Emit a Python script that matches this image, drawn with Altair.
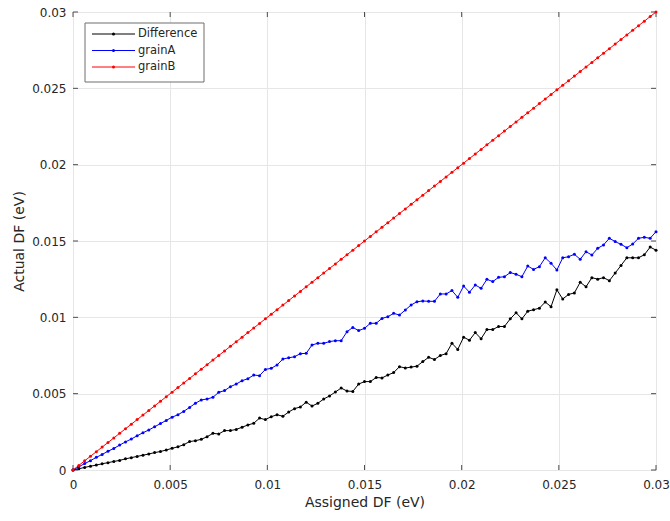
import altair as alt
import pandas as pd

# ---- data ----
assigned = [
    0.0, 0.0003, 0.0006, 0.0009, 0.0012, 0.0015, 0.0018, 0.0021, 0.0024, 0.0027,
    0.003, 0.0033, 0.0036, 0.0039, 0.0042, 0.0045, 0.0048, 0.0051, 0.0054, 0.0057,
    0.006, 0.0063, 0.0066, 0.0069, 0.0072, 0.0075, 0.0078, 0.0081, 0.0084, 0.0087,
    0.009, 0.0093, 0.0096, 0.0099, 0.0102, 0.0105, 0.0108, 0.0111, 0.0114, 0.0117,
    0.012, 0.0123, 0.0126, 0.0129, 0.0132, 0.0135, 0.0138, 0.0141, 0.0144, 0.0147,
    0.015, 0.0153, 0.0156, 0.0159, 0.0162, 0.0165, 0.0168, 0.0171, 0.0174, 0.0177,
    0.018, 0.0183, 0.0186, 0.0189, 0.0192, 0.0195, 0.0198, 0.0201, 0.0204, 0.0207,
    0.021, 0.0213, 0.0216, 0.0219, 0.0222, 0.0225, 0.0228, 0.0231, 0.0234, 0.0237,
    0.024, 0.0243, 0.0246, 0.0249, 0.0252, 0.0255, 0.0258, 0.0261, 0.0264, 0.0267,
    0.027, 0.0273, 0.0276, 0.0279, 0.0282, 0.0285, 0.0288, 0.0291, 0.0294, 0.0297,
    0.03,
]

difference = [
    0.0, 0.00008, 0.00017, 0.00025, 0.00032, 0.00041, 0.00048, 0.00056, 0.00063, 0.00073,
    0.00081, 0.00089, 0.00097, 0.00105, 0.00114, 0.00121, 0.00131, 0.00142, 0.00152, 0.00166,
    0.00186, 0.00192, 0.00201, 0.00218, 0.0024, 0.00236, 0.00258, 0.00258, 0.00266, 0.0028,
    0.00295, 0.00306, 0.0034, 0.0033, 0.00349, 0.00362, 0.00352, 0.0038, 0.00402, 0.00413,
    0.00444, 0.00419, 0.00437, 0.00465, 0.00485, 0.00511, 0.00537, 0.00517, 0.00515, 0.00563,
    0.00579, 0.00579, 0.00606, 0.00603, 0.00622, 0.00638, 0.00677, 0.00668, 0.00674, 0.0068,
    0.0071, 0.00738, 0.00724, 0.0075, 0.00762, 0.0083, 0.0079, 0.0087, 0.0085, 0.009,
    0.0086, 0.0092, 0.0092, 0.0094, 0.0094, 0.0099, 0.0103, 0.0099, 0.0104, 0.0105,
    0.0106, 0.011, 0.0107, 0.0118, 0.0112, 0.0115, 0.0116, 0.0123, 0.012, 0.0126,
    0.0125, 0.0126, 0.0124, 0.0129, 0.0134, 0.0139, 0.0139, 0.0139, 0.0141, 0.0146,
    0.0144,
]

grainA = [
    0.0, 0.00021, 0.00042, 0.00061, 0.00083, 0.00102, 0.00123, 0.00141, 0.00163, 0.00184,
    0.00203, 0.00224, 0.00244, 0.00262, 0.00283, 0.00304, 0.00325, 0.00346, 0.00362, 0.00384,
    0.0041, 0.00437, 0.00459, 0.00465, 0.00476, 0.00509, 0.0052, 0.00546, 0.00563, 0.00585,
    0.00598, 0.00622, 0.00618, 0.00659, 0.00666, 0.00688, 0.00727, 0.00735, 0.00742, 0.00762,
    0.00764, 0.00819, 0.0083, 0.0083, 0.00841, 0.00847, 0.00847, 0.00906, 0.00934, 0.00913,
    0.00928, 0.00961, 0.00961, 0.00993, 0.01004, 0.01026, 0.01015, 0.01048, 0.01081, 0.01102,
    0.01107, 0.01105, 0.01105, 0.01153, 0.01153, 0.01175, 0.01131, 0.01205, 0.01164, 0.01212,
    0.0119, 0.01249, 0.01234, 0.01262, 0.01266, 0.01293, 0.01282, 0.01266, 0.01336, 0.01314,
    0.01332, 0.0139, 0.01354, 0.0131, 0.0139, 0.01397, 0.01413, 0.0138, 0.0143, 0.01408,
    0.01452, 0.01474, 0.01518, 0.01496, 0.01478, 0.01456, 0.0148, 0.01518, 0.01524, 0.01518,
    0.01561,
]

grainB = [
    0.0, 0.0003, 0.0006, 0.0009, 0.0012, 0.0015, 0.0018, 0.0021, 0.0024, 0.0027,
    0.003, 0.0033, 0.0036, 0.0039, 0.0042, 0.0045, 0.0048, 0.0051, 0.0054, 0.0057,
    0.006, 0.0063, 0.0066, 0.0069, 0.0072, 0.0075, 0.0078, 0.0081, 0.0084, 0.0087,
    0.009, 0.0093, 0.0096, 0.0099, 0.0102, 0.0105, 0.0108, 0.0111, 0.0114, 0.0117,
    0.012, 0.0123, 0.0126, 0.0129, 0.0132, 0.0135, 0.0138, 0.0141, 0.0144, 0.0147,
    0.015, 0.0153, 0.0156, 0.0159, 0.0162, 0.0165, 0.0168, 0.0171, 0.0174, 0.0177,
    0.018, 0.0183, 0.0186, 0.0189, 0.0192, 0.0195, 0.0198, 0.0201, 0.0204, 0.0207,
    0.021, 0.0213, 0.0216, 0.0219, 0.0222, 0.0225, 0.0228, 0.0231, 0.0234, 0.0237,
    0.024, 0.0243, 0.0246, 0.0249, 0.0252, 0.0255, 0.0258, 0.0261, 0.0264, 0.0267,
    0.027, 0.0273, 0.0276, 0.0279, 0.0282, 0.0285, 0.0288, 0.0291, 0.0294, 0.0297,
    0.03,
]

series_names = ["Difference", "grainA", "grainB"]
series_colors = ["#000000", "#0000ff", "#ff0000"]
tick_values = [0, 0.005, 0.01, 0.015, 0.02, 0.025, 0.03]

# ---- build table ----
rows = []
for name, vals in zip(series_names, [difference, grainA, grainB]):
    for i, (xv, yv) in enumerate(zip(assigned, vals)):
        rows.append({"x": xv, "y": yv, "series": name, "order": i})
df = pd.DataFrame(rows)
ticks_df = pd.DataFrame({"x": tick_values, "y": tick_values})

W, H = 583, 458
FONT = "DejaVu Sans"
TXT = "#262626"

xscale = alt.Scale(domain=[0, 0.03], nice=False, zero=False)
yscale = alt.Scale(domain=[0, 0.03], nice=False, zero=False)

xaxis = alt.Axis(values=tick_values, format="~g", title="Assigned DF (eV)",
                 grid=True, gridColor="#e6e6e6", gridWidth=1, domain=False, ticks=False,
                 labelFontSize=12, labelColor=TXT, labelPadding=9, labelFlush=False,
                 labelFont=FONT, titleFont=FONT,
                 titleFontSize=14, titleFontWeight="normal", titleColor=TXT, titlePadding=5)
yaxis = alt.Axis(values=tick_values, format="~g", title="Actual DF (eV)",
                 grid=True, gridColor="#e6e6e6", gridWidth=1, domain=False, ticks=False,
                 labelFontSize=12, labelColor=TXT, labelPadding=7, labelFlush=False,
                 labelFont=FONT, titleFont=FONT,
                 titleFontSize=14, titleFontWeight="normal", titleColor=TXT, titlePadding=5)

color = alt.Color("series:N",
                  scale=alt.Scale(domain=series_names, range=series_colors),
                  legend=None)

X = alt.X("x:Q", scale=xscale, axis=xaxis)
Y = alt.Y("y:Q", scale=yscale, axis=yaxis)

lines = alt.Chart(df).mark_line(strokeWidth=1).encode(
    x=X, y=Y, color=color, order="order:Q")
points = alt.Chart(df).mark_circle(size=9, opacity=1).encode(
    x=X, y=Y, color=color)

tick_color = "#4d4d4d"
bottom_ticks = alt.Chart(ticks_df).mark_rule(color=tick_color, strokeWidth=1).encode(
    x=X, y=alt.value(H), y2=alt.value(H - 5))
top_ticks = alt.Chart(ticks_df).mark_rule(color=tick_color, strokeWidth=1).encode(
    x=X, y=alt.value(0), y2=alt.value(5))
left_ticks = alt.Chart(ticks_df).mark_rule(color=tick_color, strokeWidth=1).encode(
    y=Y, x=alt.value(0), x2=alt.value(5))
right_ticks = alt.Chart(ticks_df).mark_rule(color=tick_color, strokeWidth=1).encode(
    y=Y, x=alt.value(W - 5), x2=alt.value(W))

# ---- legend box (MATLAB style), drawn as decoration ----
legend_box = alt.Chart(pd.DataFrame({"a": [0]})).mark_rect(
    fill="white", stroke="#6e6e6e", strokeWidth=1).encode(
    x=alt.value(12), x2=alt.value(131), y=alt.value(11), y2=alt.value(70))
legend_layers = [legend_box]
for k, (name, col) in enumerate(zip(series_names, series_colors)):
    yy = 22 + 16.5 * k
    ld = pd.DataFrame({"series": [name]})
    legend_layers.append(alt.Chart(ld).mark_rule(color=col, strokeWidth=1).encode(
        x=alt.value(19), x2=alt.value(62), y=alt.value(yy)))
    legend_layers.append(alt.Chart(ld).mark_circle(color=col, size=9, opacity=1).encode(
        x=alt.value(40.5), y=alt.value(yy)))
    legend_layers.append(alt.Chart(ld).mark_text(
        align="left", baseline="middle", font=FONT, fontSize=11.5, color=TXT).encode(
        text="series:N", x=alt.value(65), y=alt.value(yy)))

chart = alt.layer(bottom_ticks, top_ticks, left_ticks, right_ticks, lines, points,
                  *legend_layers).properties(
    width=W, height=H,
    padding={"left": 73, "top": 12, "right": 14, "bottom": 51},
    autosize="none",
    background="white",
).configure_view(stroke="#4d4d4d", strokeWidth=1).configure(font=FONT)

chart.save("out.html", embed_options={"renderer": "svg", "actions": False})
